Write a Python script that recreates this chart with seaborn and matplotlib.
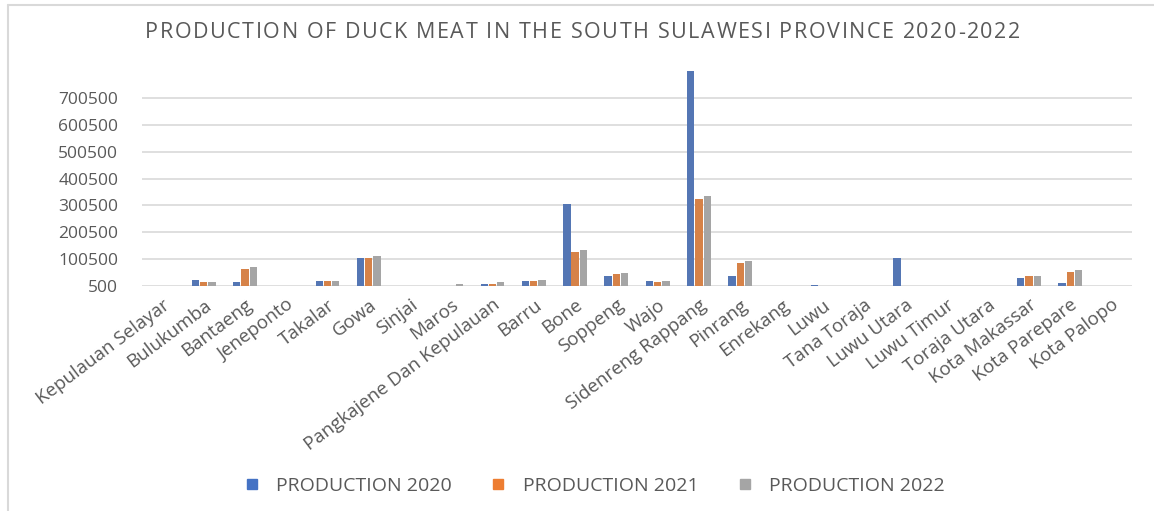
import pandas as pd
import seaborn as sns
import matplotlib.pyplot as plt
from matplotlib.lines import Line2D

# data
regencies = ['Kepulauan Selayar', 'Bulukumba', 'Bantaeng', 'Jeneponto', 'Takalar', 'Gowa',
             'Sinjai', 'Maros', 'Pangkajene Dan Kepulauan', 'Barru', 'Bone', 'Soppeng',
             'Wajo', 'Sidenreng Rappang', 'Pinrang', 'Enrekang', 'Luwu', 'Tana Toraja',
             'Luwu Utara', 'Luwu Timur', 'Toraja Utara', 'Kota Makassar', 'Kota Parepare',
             'Kota Palopo']
prod_2020 = [0, 25000, 15000, 0, 21000, 104500, 0, 0, 10000, 19000, 305000, 40000,
             21500, 802000, 36500, 0, 6000, 0, 104500, 0, 0, 29000, 11000, 0]
prod_2021 = [0, 15000, 64500, 0, 21000, 104500, 0, 0, 10000, 19000, 127000, 44000,
             15000, 324000, 87500, 0, 0, 0, 0, 0, 0, 40000, 55000, 0]
prod_2022 = [0, 15000, 70000, 0, 21000, 112000, 0, 7500, 15000, 22500, 134500, 48000,
             19000, 337000, 95000, 0, 0, 0, 0, 0, 0, 40000, 59000, 0]
series = ['PRODUCTION 2020', 'PRODUCTION 2021', 'PRODUCTION 2022']
yticks = [500, 100500, 200500, 300500, 400500, 500500, 600500, 700500]
title = 'PRODUCTION OF DUCK MEAT IN THE SOUTH SULAWESI PROVINCE 2020-2022'

df = pd.DataFrame({'Regency': regencies, series[0]: prod_2020,
                   series[1]: prod_2021, series[2]: prod_2022})
df_long = df.melt(id_vars='Regency', var_name='Series', value_name='Production')

colors = ['#4472C4', '#ED7D31', '#A5A5A5']
text_color = '#595959'

sns.set_style('white')
plt.rcParams['font.family'] = ['Open Sans', 'DejaVu Sans']

fig = plt.figure(figsize=(11.54, 5.11), dpi=100)
ax = fig.add_axes([0.123, 0.440, 0.858, 0.421])

sns.barplot(data=df_long, x='Regency', y='Production', hue='Series',
            palette=colors, width=0.6, gap=0.12, ax=ax, legend=False,
            edgecolor='none')

ax.set_ylim(500, 800500)
ax.set_yticks(yticks)
ax.set_yticklabels([str(v) for v in yticks], fontsize=12.5, color=text_color)
ax.set_xlim(-0.5, len(regencies) - 0.5)
ax.set_xticks(range(len(regencies)))
ax.set_xticklabels(regencies, rotation=37, ha='right', rotation_mode='anchor',
                   fontsize=13.5, color=text_color)
ax.tick_params(axis='x', length=0, pad=7)
ax.tick_params(axis='y', length=0, pad=17)
ax.set_xlabel('')
ax.set_ylabel('')
ax.grid(axis='y', color='#D9D9D9', linewidth=1.2)
ax.set_axisbelow(True)
sns.despine(ax=ax, left=True, bottom=True)

# title with extra letter spacing, one character at a time
renderer = fig.canvas.get_renderer()
x_px = 145
for ch in title:
    t = fig.text(x_px / 1154, 1 - 33 / 511, ch, ha='left', va='center',
                 fontsize=15.5, color=text_color)
    if ch == ' ':
        w = 5.5
    else:
        w = t.get_window_extent(renderer).width
    x_px += w + 1.6

handles = [Line2D([], [], marker='s', linestyle='none', markersize=7.5,
                  markerfacecolor=c, markeredgecolor=c) for c in colors]
fig.legend(handles, series, loc='center', bbox_to_anchor=(0.51, 0.049), ncol=3,
           frameon=False, fontsize=14, handletextpad=0.25, columnspacing=1.4,
           labelcolor=text_color)

# chart frame
fig.add_artist(Line2D([8 / 1154, 1], [1 - 5 / 511] * 2, color='#D9D9D9', linewidth=1.5))
fig.add_artist(Line2D([8 / 1154] * 2, [0, 1 - 5 / 511], color='#D9D9D9', linewidth=1.5))

fig.savefig('out.png', dpi=100)
